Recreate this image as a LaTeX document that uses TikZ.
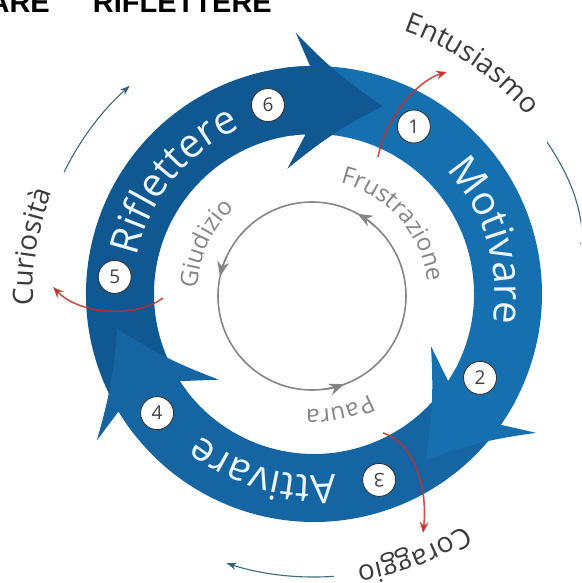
\documentclass[tikz,border=0pt]{standalone}
\usepackage{fontspec}
\usetikzlibrary{decorations.text,arrows.meta,calc}
\newfontfamily\labfont{Open Sans}
\newfontfamily\titlefont{Liberation Sans}
\definecolor{rifl}{HTML}{0F5891}
\definecolor{moti}{HTML}{1670B0}
\definecolor{atti}{HTML}{1565A3}
\definecolor{redarr}{HTML}{C4302B}
\definecolor{tealarr}{HTML}{2B6475}
\definecolor{ingrey}{HTML}{858585}
\definecolor{outgrey}{HTML}{3C3C3C}
\definecolor{bandtext}{HTML}{EAF5FC}
\newcommand\bandpart[3]{% start angle, tip angle, colour
  \fill[#3] (#1:228) arc[start angle=#1, end angle=#2+21, radius=228]
    -- ({#2+23}:160) arc[start angle=#2+23, end angle=#1, radius=160] -- cycle;}
\newcommand\headpart[2]{% tip angle, colour
  \fill[#2] ({#1+21}:228) -- ({#1+24}:262) to[bend right=6] (#1:200)
    to[bend right=6] ({#1+32}:128) -- ({#1+23}:160)
    arc[start angle=#1+23, end angle=#1+28, radius=160] -- ({#1+28}:228)
    arc[start angle=#1+28, end angle=#1+21, radius=228] -- cycle;}
\begin{document}
\begin{tikzpicture}[x=1pt,y=1pt,
  numcirc/.style={circle, draw=black!80, line width=0.9pt, fill=white, inner sep=0pt,
    minimum size=33pt, text=black!75, font=\labfont\fontsize{19}{19}\selectfont},
  redline/.style={draw=redarr, draw opacity=0.85, line width=1.6pt,
    -{Stealth[length=11pt,width=9pt,color=redarr]}},
  tealline/.style={draw=tealarr!80!gray, line width=1.1pt,
    -{Stealth[length=10pt,width=7pt,color=tealarr]}},
  greyline/.style={draw=ingrey, line width=1.6pt},
  greytip/.style={draw=ingrey, line width=1.6pt, -{Stealth[length=15pt,width=12pt]}},
  titlestyle/.style={anchor=base east, inner sep=0pt, text=black,
    font=\titlefont\bfseries\fontsize{29}{29}\selectfont}]
\useasboundingbox (-314,-289) rectangle (267,294);
\clip (-314,-289) rectangle (267,294);
\coordinate (C) at (0,0);

% title (cut by the top edge)
\node[titlestyle] (t1) at (-264,281.5) {ARE};
\node[titlestyle] (t2) at (-42,281.5) {RIFLETTERE};

% bands
\bandpart{210}{70}{rifl}
\bandpart{90}{-56}{moti}
\bandpart{-36}{-170}{atti}
% heads
\headpart{70}{rifl}
\headpart{-56}{moti}
\headpart{190}{atti}

% band texts
\path[decorate,decoration={text along path, text color=bandtext, text align=center,
  text={|\labfont\fontsize{40}{40}\selectfont|Riflettere}}]
  (186:181) arc[start angle=186,end angle=96,radius=181];
\path[decorate,decoration={text along path, text color=bandtext, text align=center,
  text={|\labfont\fontsize{40}{40}\selectfont|Motivare}}]
  (62:181) arc[start angle=62,end angle=-28,radius=181];
\path[decorate,decoration={text along path, text color=bandtext, text align=center,
  text={|\labfont\fontsize{40}{40}\selectfont|Attivare}}]
  (-61:181) arc[start angle=-61,end angle=-151,radius=181];

% number circles
\foreach \n/\a/\r/\rot in {1/59.2/195/0, 2/-26.8/186/0, 3/-70.7/197/180,
    4/217.2/197/0, 5/175.1/200/0, 6/103.7/194.5/0}
  \node[numcirc, rotate=\rot] (n\n) at (\a:\r) {\n};

% inner grey cycle
\coordinate (IC) at (-2,-2);
\draw[greyline] (IC) circle[radius=94];
\draw[greytip] ($(IC)+(48:94)$) arc[start angle=48,end angle=61,radius=94];
\draw[greytip] ($(IC)+(155:94)$) arc[start angle=155,end angle=168,radius=94];
\draw[greytip] ($(IC)+(-83:94)$) arc[start angle=-83,end angle=-70,radius=94];

% inner labels
\path[decorate,decoration={text along path, text color=ingrey, text align=center,
  text={|\labfont\fontsize{24}{24}\selectfont|Frustrazione}}]
  (100:114) arc[start angle=100,end angle=-17,radius=114];
\path[decorate,decoration={text along path, text color=ingrey, text align=center,
  text={|\labfont\fontsize{24}{24}\selectfont|Giudizio}}]
  (200:117) arc[start angle=200,end angle=110,radius=117];
\path[decorate,decoration={text along path, text color=ingrey, text align=center,
  text={|\labfont\fontsize{24}{24}\selectfont|Paura}}]
  (-40:115) arc[start angle=-40,end angle=-115,radius=115];

% outer labels
\path[decorate,decoration={text along path, text color=outgrey, text align=center,
  text={|\labfont\fontsize{28}{28}\selectfont|Entusiasmo}}]
  (85:278) arc[start angle=85,end angle=26,radius=278];
\path[decorate,decoration={text along path, text color=outgrey, text align=center,
  text={|\labfont\fontsize{28}{28}\selectfont|Curiosità}}]
  (200:281) arc[start angle=200,end angle=141,radius=281];
\path[decorate,decoration={text along path, text color=outgrey, text align=center,
  text={|\labfont\fontsize{28}{28}\selectfont|Coraggio}}]
  (-39:276) arc[start angle=-39,end angle=-99,radius=276];

% red transitions
\coordinate (fr) at (64,137);   \coordinate (en) at (133,222);
\coordinate (gi) at (-151,-4);  \coordinate (cu) at (-261,7);
\coordinate (pa) at (69,-139);  \coordinate (co) at (109,-239);
\draw[redline] (fr) .. controls (72,177) and (103,213) .. (en);
\draw[redline] (gi) .. controls (-180,-25) and (-235,-20) .. (cu);
\draw[redline] (pa) .. controls (100,-148) and (114,-195) .. (co);

% outer cycle arrows
\draw[tealline] (154:278) arc[start angle=154,end angle=131.5,radius=278];
\coordinate (ra) at (233,152); \coordinate (rb) at (270,42);
\draw[tealline] (ra) to[bend left=15] (rb);
\draw[tealline] (-86:283) arc[start angle=-86,end angle=-108,radius=283];
\end{tikzpicture}
\end{document}
